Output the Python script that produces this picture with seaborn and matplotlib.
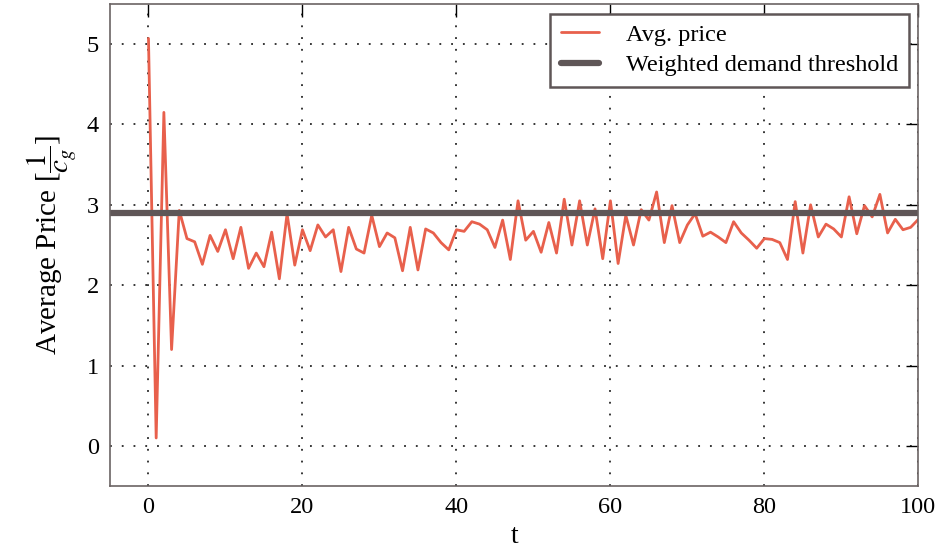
import numpy as np
import pandas as pd
import seaborn as sns
import matplotlib.pyplot as plt

# average price per round
t = list(range(0, 101))
avg_price = [
    5.07, 0.10, 4.15, 1.20, 2.93, 2.58, 2.54, 2.26, 2.62, 2.42,
    2.69, 2.33, 2.72, 2.21, 2.40, 2.23, 2.66, 2.08, 2.89, 2.25,
    2.69, 2.43, 2.75, 2.60, 2.69, 2.17, 2.72, 2.45, 2.40, 2.87,
    2.48, 2.65, 2.59, 2.18, 2.72, 2.19, 2.70, 2.65, 2.53, 2.44,
    2.69, 2.67, 2.79, 2.76, 2.69, 2.47, 2.81, 2.32, 3.05, 2.56,
    2.67, 2.41, 2.78, 2.40, 3.07, 2.50, 3.05, 2.50, 2.95, 2.33,
    3.05, 2.27, 2.87, 2.50, 2.94, 2.81, 3.16, 2.53, 2.99, 2.53,
    2.75, 2.89, 2.61, 2.66, 2.60, 2.53, 2.79, 2.65, 2.56, 2.46,
    2.58, 2.57, 2.53, 2.32, 3.04, 2.40, 3.00, 2.60, 2.76, 2.70,
    2.60, 3.10, 2.64, 2.99, 2.85, 3.13, 2.65, 2.82, 2.69, 2.72,
    2.82,
]
threshold = 2.90

df = pd.DataFrame({"t": t, "price": avg_price})

sns.set_style("white")
plt.rcParams["font.family"] = ["Liberation Serif", "DejaVu Serif"]
plt.rcParams["mathtext.fontset"] = "stix"
plt.rcParams["text.color"] = "black"
plt.rcParams["axes.labelcolor"] = "black"
plt.rcParams["xtick.color"] = "black"
plt.rcParams["ytick.color"] = "black"

fig = plt.figure(figsize=(9.4, 5.5), dpi=100)
ax = fig.add_axes([0.117, 0.116, 0.86, 0.877])

sns.lineplot(data=df, x="t", y="price", ax=ax, color="#e8604c", linewidth=2,
             label="Avg. price")
ax.axhline(threshold, color="#5f5657", linewidth=4.5, label="Weighted demand threshold")

ax.set_xlim(-5, 100)
ax.set_ylim(-0.5, 5.5)
ax.set_xticks([0, 20, 40, 60, 80, 100])
ax.set_yticks([0, 1, 2, 3, 4, 5])
ax.grid(True, color="black", linestyle=(0, (1.2, 6.5)), linewidth=1.1)
ax.set_axisbelow(True)

for s in ax.spines.values():
    s.set_color("#6b6363")
    s.set_linewidth(1.2)

ax.tick_params(direction="in", length=9, width=1, labelsize=17.5,
               top=True, right=True, pad=8)
ax.set_xlabel("t", fontsize=20, labelpad=4)
ax.set_ylabel(r"Average Price [$\dfrac{1}{c_g}$]", fontsize=21, labelpad=6)

leg = ax.legend(loc="upper right", fontsize=17.5, fancybox=False, framealpha=1,
                edgecolor="#5f5657", handlelength=1.6, handletextpad=1.1,
                borderpad=0.42, labelspacing=0.35, borderaxespad=0.4)
leg.get_frame().set_linewidth(1.8)

fig.savefig("out.png", dpi=100)
